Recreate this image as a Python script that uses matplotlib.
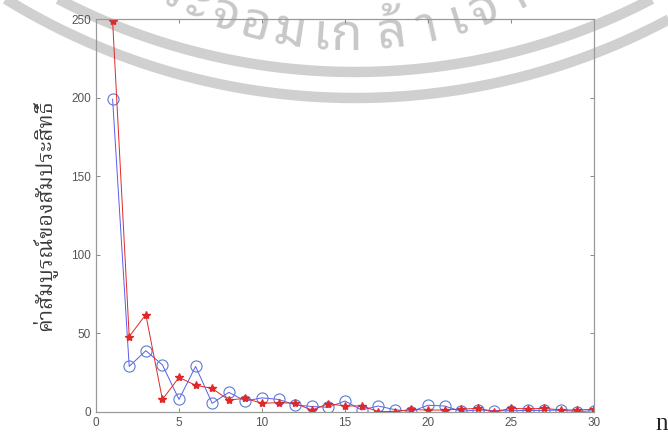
import numpy as np
import matplotlib
matplotlib.use("Agg")
import matplotlib.pyplot as plt

# |coefficient| vs index n, two coefficient sets
n = np.arange(1, 31)
coef_a = [199, 29, 39, 30, 8, 29, 5.5, 12.5, 7, 9,
          8, 4.5, 3.5, 3, 7, 1.3, 3.8, 1.5, 0.3, 4.3,
          3.8, 0.5, 1.3, 0.8, 0.8, 1, 1, 1.3, 0.2, 0.8]
coef_b = [249, 48, 62, 8, 22, 17, 15, 7.6, 8.7, 5.5,
          6, 5.5, 1.2, 5.3, 3.8, 3.9, 0.3, 0.3, 1.6, 1.2,
          1.3, 1.8, 2.3, 0.3, 2.3, 2, 2.3, 1.3, 1.3, 1.7]
xticks = [0, 5, 10, 15, 20, 25, 30]
yticks = [0, 50, 100, 150, 200, 250]
ylabel = "ค่าสัมบูรณ์ของสัมประสิทธิ์"
xlabel = "n"

# library stamp text and where its letters sit
stamp = ["พ", "ร", "ะ", "จ", "อ", "ม", "เ", "ก", "ล้", "า", "เ", "จ้", "า", "ค"]
stamp_x = [140, 172, 197, 225, 255, 290, 321, 346, 392, 427, 458, 484, 515, 545]

W, H = 668, 433
fig = plt.figure(figsize=(W / 100, H / 100), dpi=100)

# background layer in pixel coords for the stamp
bg = fig.add_axes([0, 0, 1, 1], zorder=0)
bg.set_xlim(0, W)
bg.set_ylim(H, 0)
bg.axis("off")
stamp_col = "#d0d0d0"
t = np.linspace(-np.pi / 2, np.pi / 2, 400)
cx, cy = 355, -568
for r in [640, 666]:
    bg.plot(cx + r * np.sin(t), cy + r * np.cos(t), color=stamp_col, lw=7.5,
            solid_capstyle="butt")
tcx, tcy, tr = 347, -333, 370
for ch, xx in zip(stamp, stamp_x):
    th = np.arcsin((xx - tcx) / tr)
    yy = tcy + tr * np.cos(th)
    bg.text(xx, yy, ch, fontsize=37, fontweight="bold", color="#c8c8c8",
            family=["Noto Sans Thai Looped", "DejaVu Sans"],
            rotation=np.degrees(th), rotation_mode="anchor",
            ha="center", va="center")

ax = fig.add_axes([96 / W, 1 - 412 / H, (594 - 96) / W, (412 - 19) / H], zorder=1)
ax.patch.set_alpha(0)

ax.plot(n, coef_a, color="#5a5af0", lw=0.7, marker="o", ms=8,
        mfc="none", mec="#5a7bd0", mew=0.8)
ax.plot(n, coef_b, color="#e02828", lw=0.7, marker="*", ms=6,
        mfc="#e02828", mec="#e02828")

ax.set_xlim(0, 30)
ax.set_ylim(0, 250)
ax.set_xticks(xticks)
ax.set_yticks(yticks)
ax.tick_params(direction="in", length=3, width=0.7, color="#888888",
               labelsize=8.5, labelcolor="#555555", top=True, right=True)
for lab in ax.get_xticklabels() + ax.get_yticklabels():
    lab.set_family("Liberation Sans")
for s in ax.spines.values():
    s.set_color("#999999")
    s.set_linewidth(0.9)

fig.text(45 / W, 1 - 215 / H, ylabel, rotation=90, ha="center", va="center",
         fontsize=15.5, color="#3a3a3a",
         family=["Noto Serif Thai", "DejaVu Sans"])
fig.text(655 / W, 1 - 430 / H, xlabel, ha="left", va="baseline",
         fontsize=18, color="#222222", family="Liberation Serif")

fig.savefig("out.png", dpi=100)
